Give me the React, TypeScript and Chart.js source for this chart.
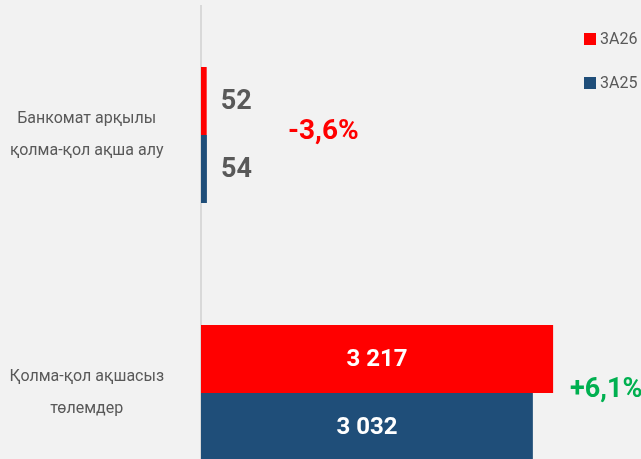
import React, { useEffect, useRef } from "react";
import { Chart, registerables } from "chart.js";

Chart.register(...registerables);

const categories = [
  ["Банкомат арқылы", "қолма-қол ақша алу"],
  ["Қолма-қол ақшасыз", "төлемдер"],
];
const seriesNames = ["3A26", "3A25"];
const values3A26 = [52, 3217];
const values3A25 = [54, 3032];
const changeLabels = ["-3,6%", "+6,1%"];
const seriesColors = ["#ff0000", "#1f4e79"];

const FONT = "Roboto, 'Liberation Sans', sans-serif";

const fmt = (n: number) => n.toString().replace(/\B(?=(\d{3})+(?!\d))/g, " ");

const labelsPlugin = {
  id: "customLabels",
  afterDatasetsDraw(chart: any) {
    const ctx = chart.ctx;
    ctx.save();
    chart.data.datasets.forEach((ds: any, di: number) => {
      const meta = chart.getDatasetMeta(di);
      meta.data.forEach((bar: any, i: number) => {
        const v = ds.data[i];
        const { x, y, base } = bar.getProps(["x", "y", "base"], true);
        const w = x - base;
        const text = fmt(v);
        ctx.textBaseline = "middle";
        if (w > 100) {
          ctx.font = `bold 24px ${FONT}`;
          ctx.fillStyle = "#ffffff";
          ctx.textAlign = "center";
          ctx.fillText(text, (x + base) / 2, y + 1);
        } else {
          ctx.font = `bold 27px ${FONT}`;
          ctx.fillStyle = "#595959";
          ctx.textAlign = "left";
          ctx.fillText(text, x + 14, y + 1);
        }
      });
    });
    const gaps = [81, 17];
    const sizes = [28, 27];
    changeLabels.forEach((t, i) => {
      const ends = chart.data.datasets.map((_: any, di: number) => chart.getDatasetMeta(di).data[i].x);
      const xEnd = Math.max(...ends);
      const yc = chart.scales.y.getPixelForValue(i);
      ctx.font = `bold ${sizes[i]}px ${FONT}`;
      ctx.fillStyle = t.startsWith("-") ? "#ff0000" : "#00b050";
      ctx.textAlign = "left";
      ctx.textBaseline = "middle";
      ctx.fillText(t, xEnd + gaps[i], yc - 3);
    });
    // legend
    chart.data.datasets.forEach((ds: any, di: number) => {
      const bx = chart.width - 57;
      const by = 33 + di * 44;
      ctx.fillStyle = ds.backgroundColor;
      ctx.fillRect(bx, by, 12, 12);
      ctx.font = `16px ${FONT}`;
      ctx.fillStyle = "#595959";
      ctx.textAlign = "left";
      ctx.textBaseline = "middle";
      ctx.fillText(ds.label, bx + 16, by + 7);
    });
    ctx.restore();
  },
};

export default function App() {
  const ref = useRef<HTMLCanvasElement>(null);
  useEffect(() => {
    if (!ref.current) return;
    const chart = new Chart(ref.current, {
      type: "bar",
      data: {
        labels: categories,
        datasets: [
          { label: seriesNames[0], data: values3A26, backgroundColor: seriesColors[0] },
          { label: seriesNames[1], data: values3A25, backgroundColor: seriesColors[1] },
        ],
      },
      options: {
        indexAxis: "y",
        animation: false,
        responsive: false,
        layout: { padding: { top: 6, right: 0, bottom: 0, left: 0 } },
        datasets: { bar: { categoryPercentage: 0.527, barPercentage: 1 } },
        plugins: { legend: { display: false }, tooltip: { enabled: false } },
        scales: {
          x: { display: false, min: 0, max: 4020 },
          y: {
            grid: { display: false },
            border: { display: true, color: "#d9d9d9", width: 2 },
            ticks: {
              crossAlign: "center",
              padding: 29,
              color: "#595959",
              font: { family: FONT, size: 16, lineHeight: 2.0 },
            },
            afterFit: (scale: any) => {
              scale.width = 201;
              scale.paddingTop = 0;
              scale.paddingBottom = 0;
            },
          },
        },
      },
      plugins: [labelsPlugin],
    });
    return () => chart.destroy();
  }, []);
  return (
    <div
      style={{
        position: "fixed",
        left: 0,
        top: 0,
        width: 641,
        height: 459,
        overflow: "hidden",
        background: "#f2f2f2",
      }}
    >
      <canvas ref={ref} width={641} height={522} style={{ display: "block" }} />
    </div>
  );
}
